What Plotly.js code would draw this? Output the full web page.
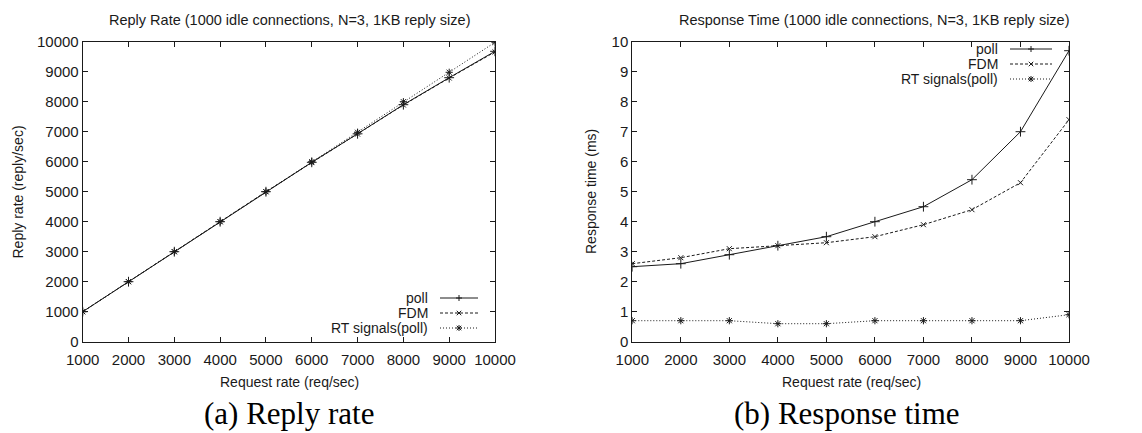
<!DOCTYPE html>
<html>
<head>
<meta charset="utf-8">
<script src="https://cdn.plot.ly/plotly-3.0.1.min.js"></script>
<style>html,body{margin:0;padding:0;background:#fff;}#chart{width:1142px;height:433px;}</style>
</head>
<body>
<div id="chart"></div>
<script>
// ---- data ----
const requestRate = [1000, 2000, 3000, 4000, 5000, 6000, 7000, 8000, 9000, 10000];
const seriesNames = ["poll", "FDM", "RT signals(poll)"];
const replyPoll = [1000, 2000, 3000, 4000, 5000, 5980, 6930, 7900, 8800, 9680];
const replyFDM  = [1000, 2000, 3000, 4000, 5000, 5970, 6920, 7890, 8790, 9660];
const replyRT   = [1000, 2000, 3000, 4000, 5000, 6000, 6980, 8000, 8980, 9980];
const respPoll  = [2.5, 2.6, 2.9, 3.2, 3.5, 4.0, 4.5, 5.4, 7.0, 9.7];
const respFDM   = [2.6, 2.8, 3.1, 3.2, 3.3, 3.5, 3.9, 4.4, 5.3, 7.4];
const respRT    = [0.7, 0.7, 0.7, 0.6, 0.6, 0.7, 0.7, 0.7, 0.7, 0.9];
const xTicks = [1000, 2000, 3000, 4000, 5000, 6000, 7000, 8000, 9000, 10000];
const yTicksReply = [0, 1000, 2000, 3000, 4000, 5000, 6000, 7000, 8000, 9000, 10000];
const yTicksResp = [0, 1, 2, 3, 4, 5, 6, 7, 8, 9, 10];

// ---- styles ----
const W = 1142, H = 433;
const FONT = "Liberation Sans, Arial, sans-serif";
const INK = "#1a1a1a";
const styles = [
  {dash: "solid", symbol: "cross-thin-open", size: 7},
  {dash: "3px,2px", symbol: "x-thin-open", size: 5},
  {dash: "1px,2px", symbol: "asterisk-open", size: 6}
];
const px = v => v / W;
const py = v => 1 - v / H;

function tr(x, y, i, xa, ya) {
  return {
    x: x, y: y, xaxis: xa, yaxis: ya, type: "scatter", mode: "lines+markers",
    name: seriesNames[i], showlegend: false, hoverinfo: "skip",
    line: {color: INK, width: 1, dash: styles[i].dash},
    marker: {symbol: styles[i].symbol, size: styles[i].size, color: INK, line: {color: INK, width: 1}}
  };
}

const traces = [
  tr(requestRate, replyPoll, 0, "x", "y"),
  tr(requestRate, replyFDM, 1, "x", "y"),
  tr(requestRate, replyRT, 2, "x", "y"),
  tr(requestRate, respPoll, 0, "x2", "y2"),
  tr(requestRate, respFDM, 1, "x2", "y2"),
  tr(requestRate, respRT, 2, "x2", "y2")
];

// legend key glyphs (gnuplot style: text right aligned, sample to the right)
function glyph(kind, cx, cy) {
  const a = 3;
  const seg = (x0, y0, x1, y1) => "M" + px(x0) + "," + py(y0) + "L" + px(x1) + "," + py(y1);
  let p = "";
  if (kind === 0 || kind === 2) p += seg(cx - a, cy, cx + a, cy) + seg(cx, cy - a, cx, cy + a);
  if (kind === 1 || kind === 2) p += seg(cx - a * 0.75, cy - a * 0.75, cx + a * 0.75, cy + a * 0.75) + seg(cx - a * 0.75, cy + a * 0.75, cx + a * 0.75, cy - a * 0.75);
  return {type: "path", xref: "paper", yref: "paper", path: p, line: {color: INK, width: 1}};
}
const legends = [
  {textRight: 430, x0: 440, x1: 478, rows: [298, 313, 328]},
  {textRight: 1000, x0: 1010, x1: 1052, rows: [49, 64, 79]}
];
const shapes = [];
const annotations = [];
legends.forEach(L => {
  L.rows.forEach((r, i) => {
    annotations.push({xref: "paper", yref: "paper", x: px(L.textRight), y: py(r), xanchor: "right", yanchor: "middle",
      text: seriesNames[i], showarrow: false, font: {family: FONT, size: 14, color: INK}});
    shapes.push({type: "line", xref: "paper", yref: "paper", x0: px(L.x0), x1: px(L.x1), y0: py(r), y1: py(r),
      line: {color: INK, width: 1, dash: styles[i].dash}});
    shapes.push(glyph(i, (L.x0 + L.x1) / 2, r));
  });
});

function txt(x, y, text, size, opts) {
  return Object.assign({xref: "paper", yref: "paper", x: px(x), y: py(y), xanchor: "center", yanchor: "middle",
    text: text, showarrow: false, font: {family: FONT, size: size, color: INK}}, opts || {});
}
annotations.push(txt(289, 20, "Reply Rate (1000 idle connections, N=3, 1KB reply size)", 14.5));
annotations.push(txt(875, 20, "Response Time (1000 idle connections, N=3, 1KB reply size)", 14.5));
annotations.push(txt(289, 382, "Request rate (req/sec)", 14));
annotations.push(txt(851, 382, "Request rate (req/sec)", 14));
annotations.push(txt(17.5, 192, "Reply rate (reply/sec)", 14, {textangle: -90}));
annotations.push(txt(591, 192, "Response time (ms)", 14, {textangle: -90}));
const SERIF = {family: "Liberation Serif, serif", size: 31, color: "#000"};
annotations.push(txt(289, 413, "(a) Reply rate", 31, {font: SERIF}));
annotations.push(txt(847, 413, "(b) Response time", 31, {font: SERIF}));

const axBase = {
  showline: true, mirror: "allticks", linecolor: INK, linewidth: 1,
  ticks: "inside", ticklen: 5, tickcolor: INK, tickwidth: 1,
  showgrid: false, zeroline: false, fixedrange: true, tickformat: "d",
  tickfont: {family: FONT, size: 15, color: INK}
};
const xExtra = {ticklabelstandoff: 4};
const yDom = [py(341.7), py(41.7)];
const layout = {
  width: W, height: H, margin: {l: 0, r: 0, t: 0, b: 0},
  paper_bgcolor: "#fff", plot_bgcolor: "#fff", showlegend: false,
  xaxis: Object.assign({}, axBase, xExtra, {domain: [px(82.7), px(495)], range: [1000, 10000], tickvals: xTicks, anchor: "y"}),
  yaxis: Object.assign({}, axBase, {domain: yDom, range: [0, 10000], tickvals: yTicksReply, anchor: "x"}),
  xaxis2: Object.assign({}, axBase, xExtra, {domain: [px(632.3), px(1069)], range: [1000, 10000], tickvals: xTicks, anchor: "y2"}),
  yaxis2: Object.assign({}, axBase, {domain: yDom, range: [0, 10], tickvals: yTicksResp, anchor: "x2"}),
  shapes: shapes, annotations: annotations
};
Plotly.newPlot("chart", traces, layout, {staticPlot: true, displayModeBar: false});
</script>
</body>
</html>
